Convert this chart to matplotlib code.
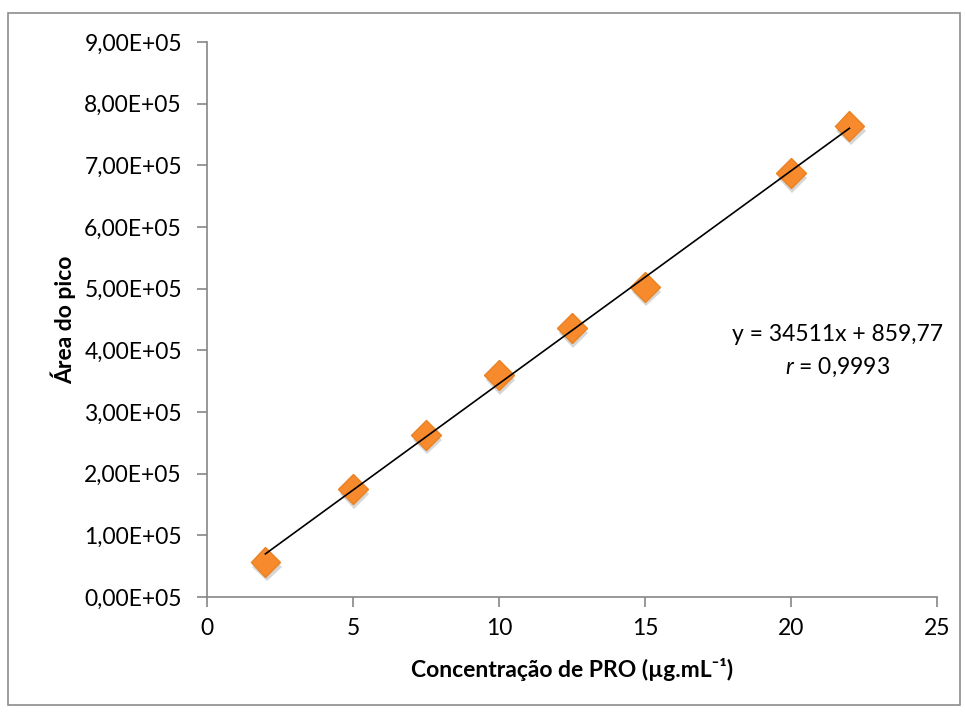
import numpy as np
import matplotlib
matplotlib.use("Agg")
import matplotlib.pyplot as plt
import matplotlib.patheffects as pe
from matplotlib.patches import Rectangle
from matplotlib.ticker import FuncFormatter

plt.rcParams['font.family'] = ['Lato', 'DejaVu Sans']
plt.rcParams['mathtext.fontset'] = 'custom'
plt.rcParams['mathtext.rm'] = 'Lato'
plt.rcParams['mathtext.it'] = 'Lato:italic'

# calibration points: concentration (ug/mL) vs peak area
conc = [2, 5, 7.5, 10, 12.5, 15, 20, 22]
area = [5.7e4, 1.75e5, 2.63e5, 3.60e5, 4.36e5, 5.03e5, 6.875e5, 7.64e5]

slope = 34511
intercept = 859.77
r_value = "0,9993"

xticks = [0, 5, 10, 15, 20, 25]
yticks = np.arange(0, 9.01e5, 1e5)

fig = plt.figure(figsize=(9.65, 7.13), dpi=100)
ax = fig.add_axes([0.2145, 0.1627, 0.7565, 0.7784])

# chart border
fig.patches.append(Rectangle((8 / 965, 1 - 705 / 713), 952 / 965, 692 / 713,
                             transform=fig.transFigure, fill=False,
                             edgecolor='#8c8c8c', linewidth=1.2))

grey = '#868686'
shadow = [pe.SimplePatchShadow(offset=(1, -3.5), shadow_rgbFace='#8a8a8a', alpha=0.35),
          pe.Normal()]
ax.plot(conc, area, linestyle='none', marker='D', markersize=15,
        markerfacecolor='#f68a2c', markeredgecolor='#e98224', markeredgewidth=1,
        path_effects=shadow, zorder=3)

# linear fit line from the stated equation
xl = np.array([conc[0], conc[-1]])
ax.plot(xl, slope * xl + intercept, color='black', linewidth=1.2, zorder=4)

ax.set_xlim(0, 25)
ax.set_ylim(0, 9e5)
ax.set_xticks(xticks)
ax.set_yticks(yticks)
ax.yaxis.set_major_formatter(FuncFormatter(
    lambda v, p: ("%.2fE+05" % (v / 1e5)).replace('.', ',')))

for side in ('top', 'right'):
    ax.spines[side].set_visible(False)
for side in ('left', 'bottom'):
    ax.spines[side].set_color(grey)
    ax.spines[side].set_linewidth(1.2)
ax.tick_params(direction='out', length=7, width=1.2, color=grey,
               labelsize=16.5, labelcolor='black')
ax.tick_params(axis='y', pad=11)
ax.tick_params(axis='x', pad=8)

ax.set_xlabel('Concentração de PRO (µg.mL⁻¹)', fontsize=16.5,
              fontweight='bold', labelpad=14)
ax.set_ylabel('Área do pico', fontsize=16.5, fontweight='bold', labelpad=6)

ax.text(21.6, 4.25e5, 'y = 34511x + 859,77', fontsize=16.5, ha='center', va='center')
ax.text(21.6, 3.73e5, '$\\it{r}$ = ' + r_value, fontsize=16.5, ha='center', va='center')

fig.savefig('out.png', dpi=100)
